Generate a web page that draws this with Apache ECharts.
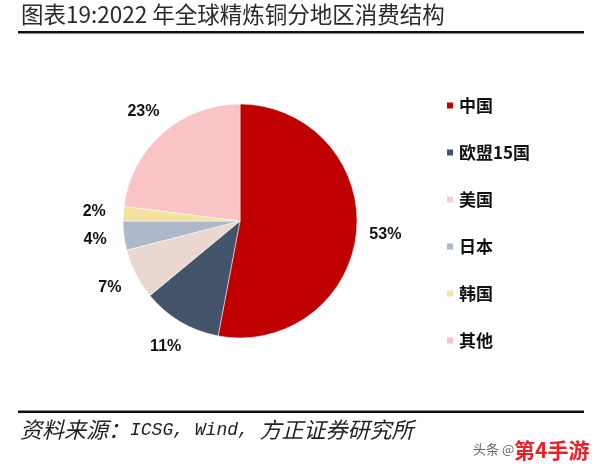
<!DOCTYPE html>
<html>
<head>
<meta charset="utf-8">
<script src="https://cdn.jsdelivr.net/npm/echarts@6/dist/echarts.min.js"></script>
<style>
  html, body { margin: 0; padding: 0; background: #fff; }
  #chart { width: 594px; height: 470px; }
</style>
</head>
<body>
<div id="chart"></div>
<script>
const regions = ["中国", "欧盟15国", "美国", "日本", "韩国", "其他"];
const shares = [53, 11, 7, 4, 2, 23];
const colors = ["#C00000", "#44546A", "#EAD7CF", "#ADB9CA", "#F6E29F", "#FAC4C6"];

const cjk = '"Noto Sans CJK SC", sans-serif';
const pieData = regions.map((name, i) => ({ name, value: shares[i] }));

const chart = echarts.init(document.getElementById("chart"));

chart.setOption({
  backgroundColor: "#fff",
  animation: false,
  color: colors,
  title: [
    {
      text: "图表19:2022 年全球精炼铜分地区消费结构",
      left: 16,
      top: -2,
      textStyle: { fontFamily: cjk, fontSize: 22.5, fontWeight: "normal", color: "#2a2a2a" },
    },
    {
      text: "{c|资料来源：}{m|ICSG, Wind, }{c|方正证券研究所}",
      left: 15,
      top: 414,
      textStyle: {
        fontWeight: "normal",
        rich: {
          c: { fontFamily: cjk, fontSize: 22, fontStyle: "italic", fontWeight: "normal", color: "#222" },
          m: { fontFamily: "'Liberation Mono', 'DejaVu Sans Mono', monospace", fontSize: 18, fontStyle: "italic", fontWeight: "normal", color: "#222" },
        },
      },
    },
  ],
  legend: {
    orient: "vertical",
    left: 440,
    top: 92,
    itemGap: 30,
    itemWidth: 8,
    itemHeight: 8,
    icon: "rect",
    data: regions.map((name, i) => ({ name, itemStyle: { color: colors[i] } })),
    textStyle: { fontFamily: cjk, fontSize: 17, fontWeight: "bold", color: "#111" },
  },
  graphic: [
    { type: "rect", shape: { x: 18, y: 31, width: 566, height: 2.5 }, style: { fill: "#111" } },
    { type: "rect", shape: { x: 18, y: 410.5, width: 566, height: 2.5 }, style: { fill: "#111" } },
    {
      type: "text", left: 473, top: 443,
      style: { text: "头条 @", fontFamily: cjk, fontSize: 13, fill: "#666" },
    },
    {
      type: "text", left: 513, top: 439,
      style: { text: "第4手游", fontFamily: cjk, fontSize: 21, fontWeight: "bold", fill: "#E8202A", stroke: "#fff", lineWidth: 2 },
    },
  ],
  series: [
    {
      type: "pie",
      center: [240, 221],
      radius: 117,
      startAngle: 90,
      clockwise: true,
      itemStyle: { borderColor: "#fff", borderWidth: 0.5 },
      label: { show: false },
      labelLine: { show: false },
      data: pieData,
    },
    {
      // invisible ring that carries the percentage labels just outside the pie
      type: "pie",
      center: [240, 221],
      radius: [118, 168],
      startAngle: 90,
      clockwise: true,
      silent: true,
      itemStyle: { color: "rgba(0,0,0,0)" },
      label: {
        show: true,
        position: "inside",
        formatter: "{c}%",
        fontFamily: "Arial, 'Liberation Sans', sans-serif",
        fontSize: 16,
        fontWeight: "bold",
        color: "#111",
      },
      labelLine: { show: false },
      data: pieData,
    },
  ],
});
</script>
</body>
</html>
